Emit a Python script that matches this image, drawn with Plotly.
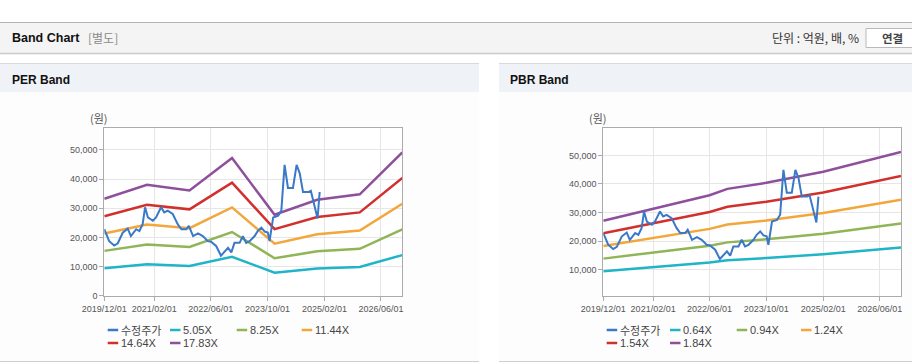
import plotly.graph_objects as go

W, H = 912, 364

# ---------------- data ----------------
price_name = "수정주가"
price_dates = [
    "2019-12-01", "2020-01-12", "2020-02-24", "2020-03-26", "2020-05-07", "2020-06-19",
    "2020-07-16", "2020-08-31", "2020-09-27", "2020-10-25", "2020-11-15", "2020-12-09",
    "2021-01-21", "2021-02-17", "2021-04-01", "2021-04-28", "2021-05-28", "2021-07-10",
    "2021-08-22", "2021-09-22", "2021-11-04", "2021-11-25", "2022-01-01", "2022-02-12",
    "2022-03-25", "2022-05-07", "2022-06-04", "2022-07-19", "2022-08-28", "2022-10-28",
    "2022-11-25", "2022-12-22", "2023-02-04", "2023-03-04", "2023-04-01", "2023-05-01",
    "2023-06-13", "2023-07-10", "2023-08-10", "2023-09-07", "2023-10-04", "2023-10-19",
    "2023-11-19", "2024-01-01", "2024-01-28", "2024-02-25", "2024-03-25", "2024-05-07",
    "2024-06-07", "2024-07-04", "2024-08-01", "2024-09-16", "2024-10-07", "2024-11-10",
    "2024-12-04", "2024-12-22",
]
price_values = [
    22800, 18720, 17220, 18000, 21600, 23000,
    20460, 22800, 22200, 24540, 30340, 26850,
    25700, 26850, 30340, 28600, 29200, 28030,
    24540, 22800, 22800, 23950, 20460, 21400,
    20460, 18720, 18500, 16980, 13720, 16400,
    14880, 18130, 18130, 20460, 18130, 18700,
    20460, 22200, 23370, 22000, 21700, 18720,
    26850, 27440, 29200, 44900, 36950, 36950,
    44880, 42000, 35570, 35570, 36000, 30930,
    26500, 35570,
]

per_dates = ["2019-12-01", "2020-12-01", "2021-12-01", "2022-12-01",
             "2023-12-01", "2024-12-01", "2025-12-01", "2026-12-01"]
per_names = ["5.05X", "8.25X", "11.44X", "14.64X", "17.83X"]
per_505 = [9413, 10772, 10221, 13372, 7873, 9317, 9858, 13933]
per_825 = [15378, 17597, 16698, 21846, 12862, 15221, 16104, 22762]
per_1144 = [21324, 24402, 23155, 30293, 17835, 21107, 22331, 31563]
per_1464 = [27289, 31227, 29631, 38767, 22824, 27011, 28577, 40392]
per_1783 = [33235, 38031, 36088, 47214, 27797, 32896, 34804, 49193]

pbr_dates = ["2019-12-01", "2021-02-01", "2022-06-01", "2022-11-01",
             "2023-10-01", "2025-02-01", "2026-06-01", "2026-12-01"]
pbr_names = ["0.64X", "0.94X", "1.24X", "1.54X", "1.84X"]
pbr_064 = [9440, 10880, 12531, 13312, 14048, 15392, 17152, 17792]
pbr_094 = [13865, 15980, 18405, 19552, 20633, 22607, 25192, 26132]
pbr_124 = [18290, 21080, 24279, 25792, 27218, 29822, 33232, 34472]
pbr_154 = [22715, 26180, 30153, 32032, 33803, 37037, 41272, 42812]
pbr_184 = [27140, 31280, 36027, 38272, 40388, 44252, 49312, 51152]

x_tick_vals = ["2019-12-01", "2021-02-01", "2022-06-01", "2023-10-01", "2025-02-01", "2026-06-01"]
x_tick_text = ["2019/12/01", "2021/02/01", "2022/06/01", "2023/10/01", "2025/02/01", "2026/06/01"]
x_range = ["2019-12-01", "2026-12-01"]
per_y_range = [0, 57440]
pbr_y_range = [892, 59465]

# ---------------- styles ----------------
price_color = "#3a78c8"
band_colors = ["#20b4c8", "#8fb556", "#f3a63a", "#d1302c", "#8e4f9d"]
FONT = "Liberation Sans, Arial, Noto Sans CJK KR, sans-serif"
KFONT = "Noto Sans CJK KR, Liberation Sans, sans-serif"


def px(x):
    return x / W


def py(y):
    return 1 - y / H


fig = go.Figure()

per_series = [per_505, per_825, per_1144, per_1464, per_1783]
pbr_series = [pbr_064, pbr_094, pbr_124, pbr_154, pbr_184]

for nm, vals, col in zip(per_names, per_series, band_colors):
    fig.add_trace(go.Scatter(x=per_dates, y=vals, name=nm, mode="lines",
                             line=dict(color=col, width=2.5), xaxis="x", yaxis="y",
                             showlegend=False))
fig.add_trace(go.Scatter(x=price_dates, y=price_values, name=price_name, mode="lines",
                         line=dict(color=price_color, width=2), xaxis="x", yaxis="y",
                         showlegend=False))

for nm, vals, col in zip(pbr_names, pbr_series, band_colors):
    fig.add_trace(go.Scatter(x=pbr_dates, y=vals, name=nm, mode="lines",
                             line=dict(color=col, width=2.5), xaxis="x2", yaxis="y2",
                             showlegend=False))
fig.add_trace(go.Scatter(x=price_dates, y=price_values, name=price_name, mode="lines",
                         line=dict(color=price_color, width=2), xaxis="x2", yaxis="y2",
                         showlegend=False))

per_dom_x = [px(104.3), px(402.3)]
pbr_dom_x = [px(603.3), px(901)]
dom_y = [py(295.7), py(128.3)]

axis_common = dict(showline=True, linecolor="#ababab", linewidth=1, mirror=True,
                   showgrid=True, gridcolor="#e6e6e6", gridwidth=1,
                   ticks="outside", ticklen=4, tickcolor="#ababab", automargin=False,
                   tickfont=dict(family=FONT, size=9, color="#555555"), zeroline=False)

fig.update_layout(
    width=W, height=H, autosize=False,
    margin=dict(l=0, r=0, t=0, b=0, pad=0, autoexpand=False),
    paper_bgcolor="#ffffff", plot_bgcolor="#ffffff",
    showlegend=False,
    xaxis=dict(domain=per_dom_x, anchor="y", type="date", range=x_range,
               tickvals=x_tick_vals, ticktext=x_tick_text, **axis_common),
    yaxis=dict(domain=dom_y, anchor="x", range=per_y_range, tick0=0, dtick=10000,
               tickformat=",d", **axis_common),
    xaxis2=dict(domain=pbr_dom_x, anchor="y2", type="date", range=x_range,
                tickvals=x_tick_vals, ticktext=x_tick_text, **axis_common),
    yaxis2=dict(domain=dom_y, anchor="x2", range=pbr_y_range, tick0=0, dtick=10000,
                tickformat=",d", **axis_common),
)

shapes = []


def rect(x0, y0, x1, y1, fill, line=None, lw=0):
    shapes.append(dict(type="rect", xref="paper", yref="paper",
                       x0=px(x0), x1=px(x1), y0=py(y1), y1=py(y0),
                       fillcolor=fill, line=dict(color=line or fill, width=lw),
                       layer="below"))


def hline(x0, x1, y, color, lw=1):
    shapes.append(dict(type="line", xref="paper", yref="paper",
                       x0=px(x0), x1=px(x1), y0=py(y), y1=py(y),
                       line=dict(color=color, width=lw), layer="below"))


# page header
hline(0, 912, 22.5, "#b2b2b2", 1.2)
rect(0, 23, 912, 53, "#f4f4f4")
hline(0, 912, 53.5, "#cacaca", 1.5)
# button
rect(866, 28.5, 918, 47.5, "#ffffff", "#b9b9b9", 1)

# panels
for x0, x1 in [(0, 479), (499, 912)]:
    hline(x0, x1, 63.5, "#d9d9d9", 1)
    rect(x0, 64, x1, 92, "#eff3f7")
    rect(x0, 92, x1, 361, "#fdfdfd")
    hline(x0, x1, 361.5, "#cfcfcf", 1.2)
# plot area backgrounds
rect(104.3, 128.3, 402.3, 295.7, "#ffffff")
rect(603.3, 128.3, 901, 295.7, "#ffffff")

annotations = []


def text(x, y, s, size=12, color="#333333", bold=False, xanchor="left", family=KFONT):
    annotations.append(dict(xref="paper", yref="paper", x=px(x), y=py(y),
                            text=("<b>%s</b>" % s) if bold else s, showarrow=False,
                            xanchor=xanchor, yanchor="middle", borderpad=0,
                            font=dict(family=family, size=size, color=color)))


text(11, 38, "Band Chart", 12.5, "#111111", True, family=FONT)
text(87, 38, "[별도]", 12, "#8a8a8a")
text(860, 38, "단위 : 억원, 배, %", 12, "#333333", xanchor="right")
text(892, 38, "연결", 11.5, "#444444", True, xanchor="center")
text(11, 80, "PER Band", 12, "#111111", True, family=FONT)
text(509, 80, "PBR Band", 12, "#111111", True, family=FONT)
text(99, 118, "(원)", 11, "#555555", xanchor="center")
text(597.5, 118, "(원)", 11, "#555555", xanchor="center")


# legends
def legend(x_cols, names, colors):
    rows = [330, 343]
    for i, (nm, col) in enumerate(zip(names, colors)):
        r = rows[i // 4]
        c = x_cols[i % 4]
        hline(c, c + 10.5, r, col, 2.5)
        text(c + 12, r, nm, 11, "#444444", family=KFONT if i == 0 else FONT)


legend([107.7, 170, 236.7, 301.7], [price_name] + per_names, [price_color] + band_colors)
legend([606.7, 670, 736.7, 801], [price_name] + pbr_names, [price_color] + band_colors)

fig.update_layout(shapes=shapes, annotations=annotations)

fig.write_html("out.html", config={"displayModeBar": False},
               post_script="document.body.style.margin='0';document.body.style.overflow='hidden';")
